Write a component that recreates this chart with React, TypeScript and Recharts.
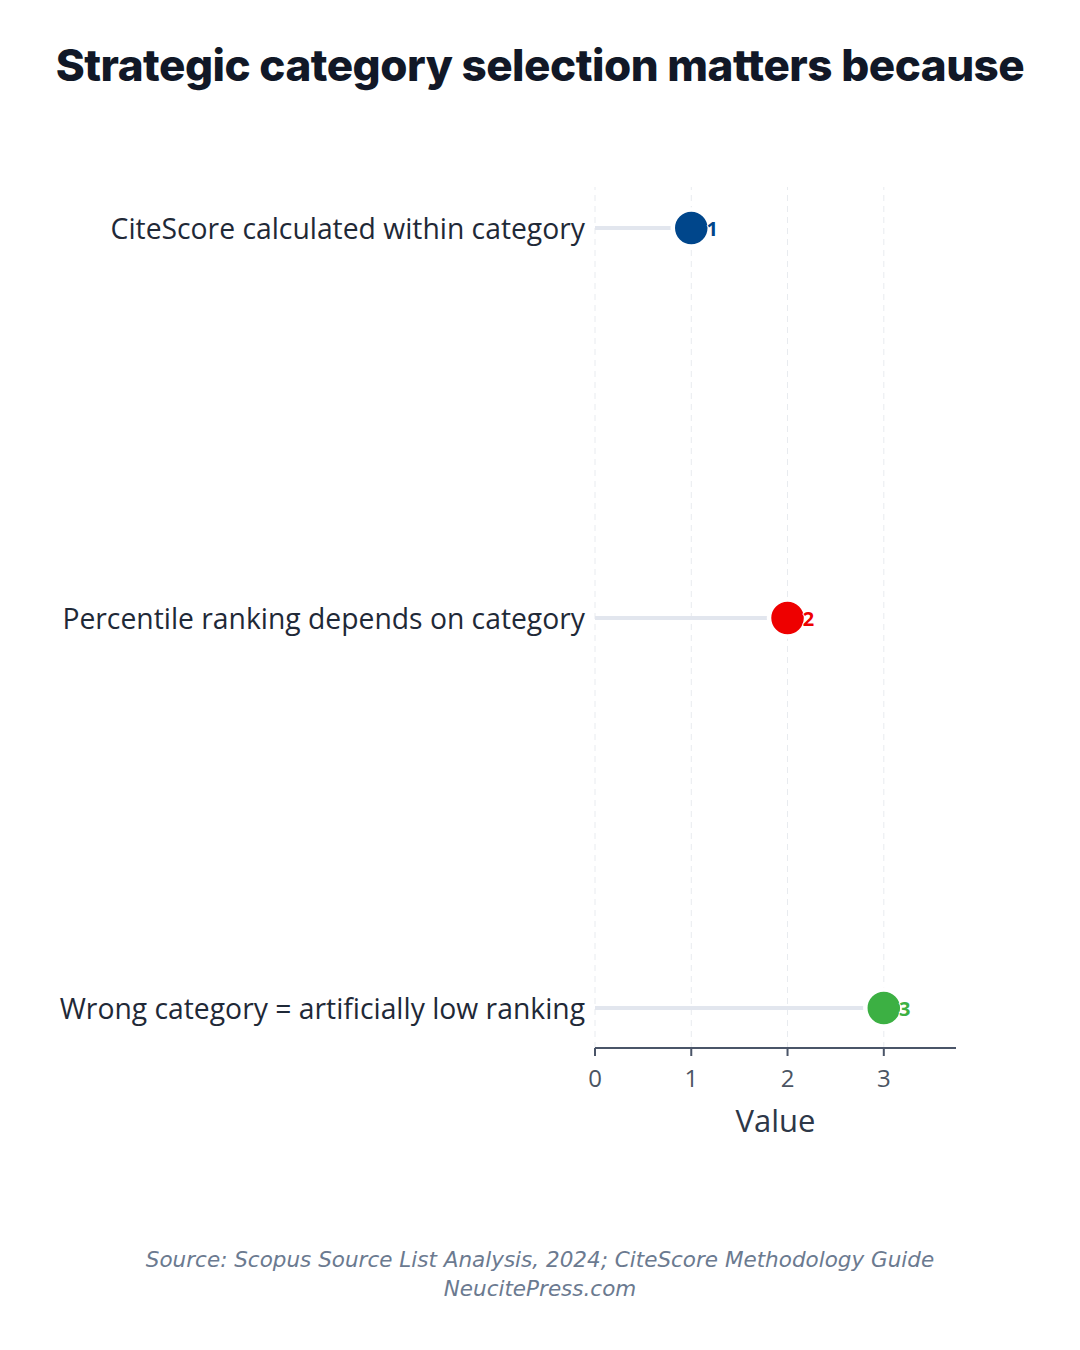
import React from "react";
import {
  ComposedChart,
  Scatter,
  XAxis,
  YAxis,
  ReferenceLine,
  Label,
} from "recharts";

const categories = [
  "CiteScore calculated within category",
  "Percentile ranking depends on category",
  "Wrong category = artificially low ranking",
];
const values = [1, 2, 3];
const dotColors = ["#00468b", "#ee0000", "#3cb043"];
const xTicks = [0, 1, 2, 3];

const FONT = "'Open Sans', 'DejaVu Sans', sans-serif";

const data = categories.map((category, i) => ({
  category,
  value: values[i],
  color: dotColors[i],
}));

const LollipopDot = (props: any) => {
  const { cx, cy, payload } = props;
  return (
    <g>
      <circle cx={cx} cy={cy} r={18.5} fill={payload.color} stroke="#ffffff" strokeWidth={4.5} />
      <text
        x={cx + 21}
        y={cy}
        textAnchor="middle"
        dominantBaseline="central"
        fontFamily={FONT}
        fontWeight={700}
        fontSize={20}
        fill={payload.color}
        stroke="#ffffff"
        strokeWidth={1.5}
        paintOrder="stroke"
      >
        {payload.value}
      </text>
    </g>
  );
};

const CategoryTick = (props: any) => {
  const { x, y, payload } = props;
  return (
    <text
      x={x}
      y={y}
      textAnchor="end"
      dominantBaseline="central"
      fontFamily={FONT}
      fontSize={28.3}
      fill="#1f2937"
    >
      {payload.value}
    </text>
  );
};

export default function App() {
  return (
    <div
      style={{
        position: "absolute",
        left: 0,
        top: 0,
        width: 1080,
        height: 1350,
        background: "#ffffff",
        fontFamily: FONT,
      }}
    >
      <div
        style={{
          position: "absolute",
          top: 38,
          width: 1080,
          textAlign: "center",
          fontSize: 44,
          fontWeight: 800,
          color: "#111827",
          fontFamily: "Inter, 'Open Sans', sans-serif",
          letterSpacing: -0.5,
        }}
      >
        Strategic category selection matters because
      </div>

      <ComposedChart
        layout="vertical"
        width={1080}
        height={1350}
        data={data}
        margin={{ top: 187, right: 124, bottom: 212, left: 15 }}
      >
        <XAxis
          type="number"
          dataKey="value"
          domain={[0, 3.75]}
          allowDataOverflow={true}
          scale="linear"
          ticks={xTicks}
          height={90}
          stroke="#4a5568"
          strokeWidth={2}
          tickSize={8}
          tickMargin={14}
          tick={{ fontSize: 24, fill: "#4b5563", fontFamily: FONT }}
        >
          <Label
            value="Value"
            position="insideBottom"
            offset={6}
            style={{ fontSize: 31, fill: "#2d3748", fontFamily: FONT }}
          />
        </XAxis>
        <YAxis
          type="category"
          dataKey="category"
          scale="point"
          padding={{ top: 41, bottom: 40 }}
          width={580}
          axisLine={false}
          tickLine={false}
          tickSize={0}
          tickMargin={10}
          tick={<CategoryTick />}
        />
        {/* dashed vertical grid at the tick values only */}
        {xTicks.map((t) => (
          <ReferenceLine
            key={`grid-${t}`}
            x={t}
            stroke="#e8ebef"
            strokeDasharray="6 5"
          />
        ))}
        {data.map((d) => (
          <ReferenceLine
            key={d.category}
            segment={[
              { x: 0, y: d.category },
              { x: d.value, y: d.category },
            ]}
            stroke="#e2e6ee"
            strokeWidth={4}
            ifOverflow="visible"
          />
        ))}
        <Scatter
          dataKey="value"
          isAnimationActive={false}
          shape={<LollipopDot />}
        />
      </ComposedChart>

      <div
        style={{
          position: "absolute",
          top: 1245,
          width: 1080,
          textAlign: "center",
          fontSize: 21.5,
          fontFamily: "'DejaVu Sans', sans-serif",
          fontStyle: "italic",
          color: "#6b7a90",
          lineHeight: "29px",
        }}
      >
        Source: Scopus Source List Analysis, 2024; CiteScore Methodology Guide
        <br />
        NeucitePress.com
      </div>
    </div>
  );
}
